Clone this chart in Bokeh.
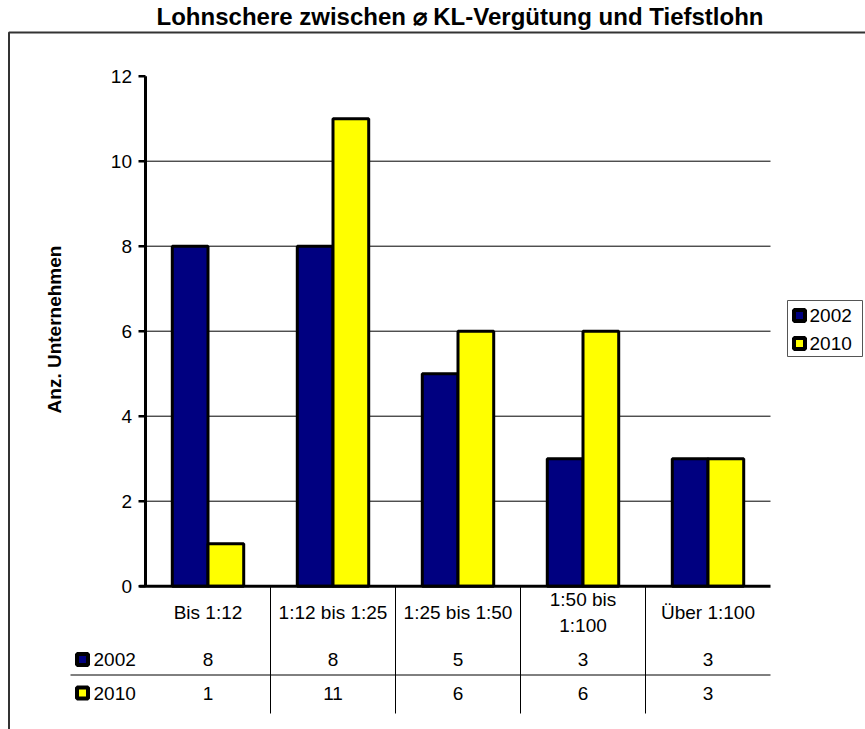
import numpy as np
from bokeh.plotting import figure
from bokeh.models import Range1d, ColumnDataSource
from bokeh.core.properties import value
from bokeh.embed import file_html
from bokeh.resources import INLINE

# ---------------- data ----------------
title = "Lohnschere zwischen ⌀ KL-Vergütung und Tiefstlohn"
y_label = "Anz. Unternehmen"
categories = ["Bis 1:12", "1:12 bis 1:25", "1:25 bis 1:50", "1:50 bis\n1:100", "Über 1:100"]
series_names = ["2002", "2010"]
values_2002 = [8, 8, 5, 3, 3]
values_2010 = [1, 11, 6, 6, 3]
y_ticks = [0, 2, 4, 6, 8, 10, 12]
colors = ["#000080", "#FFFF00"]

# ---------------- layout helpers (page px -> data) ----------------
W, H = 865, 729
UX = 125.0      # px per category
UY = 42.5       # px per unit
def PX(page_x):
    return (page_x - 145.0) / UX
def PY(page_y):
    return (585.7 - page_y) / UY

FONT = value("Liberation Sans")

p = figure(width=W, height=H, x_range=Range1d(PX(0), PX(W)), y_range=Range1d(PY(H), PY(0)),
           output_backend="svg", toolbar_location=None, x_axis_location=None, y_axis_location=None,
           min_border=0)
p.grid.visible = False
p.outline_line_color = None
p.background_fill_color = "white"
p.border_fill_color = "white"

n = len(categories)
centers = np.arange(n) + 0.5
bar_w = 1.0 / 3.5

# outer chart border (left + top)
p.line(x=[PX(8.5), PX(8.5), PX(870)], y=[PY(735), PY(32), PY(32)], line_color="#333333", line_width=2)

# gridlines
grid_vals = [t for t in y_ticks if 0 < t < max(y_ticks)]
p.segment(x0=[0] * len(grid_vals), x1=[n] * len(grid_vals), y0=grid_vals, y1=grid_vals,
          line_color="black", line_width=1)

# bars
src = ColumnDataSource(dict(x1=centers - bar_w / 2, x2=centers + bar_w / 2,
                            v1=values_2002, v2=values_2010))
p.vbar(x="x1", top="v1", bottom=0, width=bar_w, source=src, fill_color=colors[0],
       line_color="black", line_width=3)
p.vbar(x="x2", top="v2", bottom=0, width=bar_w, source=src, fill_color=colors[1],
       line_color="black", line_width=3)

# axes
p.segment(x0=[0], x1=[0], y0=[0], y1=[max(y_ticks)], line_color="black", line_width=3)
p.segment(x0=[PX(139)], x1=[n], y0=[0], y1=[0], line_color="black", line_width=3)
p.segment(x0=[PX(138)] * len(y_ticks), x1=[0] * len(y_ticks), y0=y_ticks, y1=y_ticks,
          line_color="black", line_width=2.5)
p.text(x=[PX(131.5)] * len(y_ticks), y=y_ticks, text=[str(t) for t in y_ticks],
       text_font=FONT, text_font_size="19px", text_align="right", text_baseline="middle",
       text_color="black")

# y axis title
p.text(x=[PX(53.5)], y=[PY(329)], text=[y_label], angle=np.pi / 2, text_font=FONT,
       text_font_size="19px", text_font_style="bold", text_align="center",
       text_baseline="middle", text_color="black")

# title
p.text(x=[PX(459.5)], y=[PY(16)], text=[title], text_font=FONT, text_font_size="24px",
       text_font_style="bold", text_align="center", text_baseline="middle", text_color="black")

# data table
bounds = list(range(1, n))
p.segment(x0=bounds, x1=bounds, y0=[0] * len(bounds), y1=[PY(713)] * len(bounds),
          line_color="black", line_width=1)
p.segment(x0=[PX(70)], x1=[n], y0=[PY(674.5)], y1=[PY(674.5)], line_color="black", line_width=1)
p.text(x=centers, y=[PY(612)] * n, text=categories, text_font=FONT, text_font_size="19px",
       text_align="center", text_baseline="middle", text_color="black", text_line_height=1.2)
row_y = [PY(659), PY(692.5)]
for vals, ry in zip([values_2002, values_2010], row_y):
    p.text(x=centers, y=[ry] * n, text=[str(v) for v in vals], text_font=FONT,
           text_font_size="19px", text_align="center", text_baseline="middle", text_color="black")
p.scatter(x=[PX(82)] * 2, y=row_y, marker="square", size=11, fill_color=colors,
          line_color="black", line_width=4)
p.text(x=[PX(93)] * 2, y=row_y, text=series_names, text_font=FONT, text_font_size="19px",
       text_align="left", text_baseline="middle", text_color="black")

# legend
p.quad(left=[PX(787)], right=[PX(862)], top=[PY(300)], bottom=[PY(356)], fill_color="white",
       line_color="#555555", line_width=1)
leg_y = [PY(315), PY(343)]
p.scatter(x=[PX(799)] * 2, y=leg_y, marker="square", size=11, fill_color=colors,
          line_color="black", line_width=4)
p.text(x=[PX(809)] * 2, y=leg_y, text=series_names, text_font=FONT, text_font_size="19px",
       text_align="left", text_baseline="middle", text_color="black")

open("out.html", "w").write(file_html(p, INLINE))
